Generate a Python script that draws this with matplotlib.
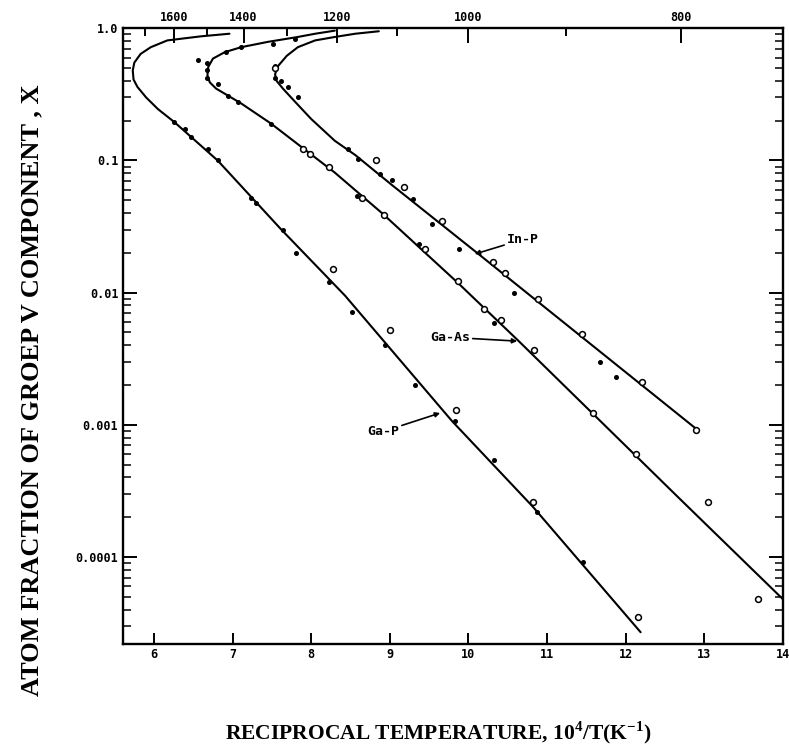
import numpy as np
import matplotlib
matplotlib.use("Agg")
import matplotlib.pyplot as plt
from matplotlib.ticker import FixedLocator, NullFormatter, FixedFormatter
from matplotlib.font_manager import FontProperties

plt.rcParams["mathtext.fontset"] = "custom"
plt.rcParams["mathtext.rm"] = "Liberation Serif"
plt.rcParams["mathtext.bf"] = "Liberation Serif:bold"

# liquidus curves (x = 10^4/T, y = atom fraction)
gap_x = [6.96, 6.60, 6.17, 5.96, 5.83, 5.75, 5.73, 5.74, 5.79, 5.90, 6.05, 6.26,
         6.81, 7.62, 8.43, 9.79, 10.82, 12.19]
gap_y = [0.91, 0.87, 0.81, 0.72, 0.64, 0.55, 0.48, 0.41, 0.36, 0.30, 0.245, 0.195,
         0.10, 0.030, 0.0095, 0.00107, 0.00024, 2.7e-5]

gaas_x = [8.30, 8.05, 7.83, 7.45, 7.11, 6.90, 6.75, 6.69, 6.68, 6.71, 6.79, 6.94,
          7.11, 7.49, 7.88, 8.30, 8.90, 9.87, 10.64, 12.69, 14.0]
gaas_y = [0.96, 0.91, 0.86, 0.79, 0.72, 0.66, 0.59, 0.51, 0.44, 0.39, 0.35, 0.31,
          0.27, 0.19, 0.126, 0.081, 0.040, 0.0118, 0.0043, 2.75e-4, 4.8e-5]

inp_x = [8.86, 8.56, 8.30, 8.05, 7.83, 7.69, 7.58, 7.54, 7.56, 7.64, 7.79, 8.00,
         8.30, 8.56, 9.03, 10.11, 12.90]
inp_y = [0.95, 0.91, 0.86, 0.81, 0.72, 0.62, 0.52, 0.45, 0.40, 0.35, 0.28, 0.206,
         0.141, 0.11, 0.065, 0.020, 9.3e-4]

# measured points: open circles
circ_x = [8.28, 9.00, 9.84, 10.82, 12.16,
          7.90, 7.98, 8.22, 8.64, 8.92, 9.45, 9.87, 10.20, 10.41, 10.84, 11.59, 12.13, 13.05, 13.68,
          7.54, 8.83, 9.18, 9.66, 10.31, 10.47, 10.88, 11.45, 12.21, 12.89]
circ_y = [0.0151, 0.0052, 0.00129, 0.00026, 3.5e-5,
          0.123, 0.112, 0.089, 0.052, 0.039, 0.0214, 0.0123, 0.0075, 0.0062, 0.0037, 0.00123,
          0.0006, 0.00026, 4.8e-5,
          0.50, 0.10, 0.063, 0.035, 0.017, 0.0141, 0.0089, 0.0049, 0.0021, 0.00091]

# measured points: small filled marks
dot_x = [6.26, 6.39, 6.47, 6.69, 6.81, 7.24, 7.30, 7.64, 7.81, 8.22, 8.52, 8.94, 9.32,
         9.83, 10.33, 10.87, 11.46,
         6.56, 6.68, 6.68, 6.68, 6.81, 6.92, 6.94, 7.07, 7.11, 7.49, 7.51, 7.79, 8.58, 9.37, 10.33,
         7.54, 7.54, 7.62, 7.71, 7.83, 8.47, 8.60, 8.88, 9.03, 9.30, 9.54, 9.88, 10.58, 11.67, 11.88]
dot_y = [0.196, 0.174, 0.151, 0.123, 0.10, 0.052, 0.048, 0.030, 0.020, 0.012, 0.0071, 0.0040, 0.0020,
         0.00107, 0.00054, 0.00022, 9.1e-5,
         0.575, 0.55, 0.48, 0.42, 0.38, 0.66, 0.31, 0.275, 0.72, 0.19, 0.76, 0.83, 0.054, 0.0234, 0.0059,
         0.52, 0.42, 0.40, 0.36, 0.30, 0.123, 0.102, 0.079, 0.071, 0.051, 0.033, 0.0214, 0.010, 0.0030, 0.0023]

bottom_ticks = [6, 7, 8, 9, 10, 11, 12, 13, 14]
# top scale ticks (temperature, K) sit where the drawing has them
top_pos = [5.88, 6.25, 6.67, 7.14, 7.69, 8.33, 9.09, 10.0, 11.24, 12.70]
top_temps = [1700, 1600, 1500, 1400, 1300, 1200, 1100, 1000, 900, 800]
top_labels = [1600, 1400, 1200, 1000, 800]
y_ticks = [1.0, 0.1, 0.01, 0.001, 0.0001]
y_labels = ["1.0", "0.1", "0.01", "0.001", "0.0001"]

fig = plt.figure(figsize=(7.89, 7.51), dpi=100)
ax = fig.add_axes([0.1553, 0.1425, 0.837, 0.8198])

for cx, cy in [(gap_x, gap_y), (gaas_x, gaas_y), (inp_x, inp_y)]:
    ax.plot(cx, cy, color="black", lw=1.5, solid_capstyle="round", solid_joinstyle="round")
ax.plot(dot_x, dot_y, "o", ms=2.6, color="black", zorder=3)
ax.plot(circ_x, circ_y, "o", ms=4.2, mfc="white", mec="black", mew=1.1, zorder=4)

ax.set_yscale("log")
ax.set_xlim(5.6, 14.0)
ax.set_ylim(2.2e-5, 1.0)

tick_fp = FontProperties(family="DejaVu Sans Mono", weight="bold", size=8.5)
ax.xaxis.set_major_locator(FixedLocator(bottom_ticks))
ax.xaxis.set_major_formatter(FixedFormatter([str(t) for t in bottom_ticks]))
ax.yaxis.set_major_locator(FixedLocator(y_ticks))
ax.yaxis.set_major_formatter(FixedFormatter(y_labels))
minor = [m * 10.0 ** e for e in range(-5, 0) for m in range(2, 10)]
ax.yaxis.set_minor_locator(FixedLocator(minor))
ax.yaxis.set_minor_formatter(NullFormatter())
for lab in ax.get_xticklabels() + ax.get_yticklabels():
    lab.set_fontproperties(tick_fp)

ax.tick_params(axis="x", which="major", direction="in", length=8, width=1.4, pad=3, top=False)
ax.tick_params(axis="y", which="major", direction="in", length=10, width=1.4, right=True, pad=3)
ax.tick_params(axis="y", which="minor", direction="in", length=6, width=1.1, right=True)
for s in ax.spines.values():
    s.set_linewidth(1.7)

top = ax.twiny()
top.set_xlim(ax.get_xlim())
major_top = [p for p, t in zip(top_pos, top_temps) if t in top_labels]
minor_top = [p for p, t in zip(top_pos, top_temps) if t not in top_labels]
top.xaxis.set_major_locator(FixedLocator(major_top))
top.xaxis.set_major_formatter(FixedFormatter([str(t) for t in top_labels]))
top.xaxis.set_minor_locator(FixedLocator(minor_top))
top.xaxis.set_minor_formatter(NullFormatter())
for lab in top.get_xticklabels():
    lab.set_fontproperties(tick_fp)
top.tick_params(axis="x", which="major", direction="in", length=11, width=1.4, pad=3)
top.tick_params(axis="x", which="minor", direction="in", length=6, width=1.4)
for s in top.spines.values():
    s.set_visible(False)

lab_fp = FontProperties(family="DejaVu Sans Mono", weight="bold", size=9.5)
arrow = dict(arrowstyle="-|>", color="black", lw=1.2, mutation_scale=7, shrinkA=0, shrinkB=0)
ax.annotate("In-P", xy=(10.08, 0.0196), xytext=(10.49, 0.0253), fontproperties=lab_fp,
            va="center", ha="left", arrowprops=arrow)
ax.annotate("Ga-As", xy=(10.62, 0.0043), xytext=(9.51, 0.0046), fontproperties=lab_fp,
            va="center", ha="left", arrowprops=arrow)
ax.annotate("Ga-P", xy=(9.64, 0.00123), xytext=(8.71, 0.00089), fontproperties=lab_fp,
            va="center", ha="left", arrowprops=arrow)

fig.text(0.556, 0.025, "RECIPROCAL TEMPERATURE, 10$^{\\mathbf{4}}$/T(K$^{\\mathbf{-1}}$)",
         ha="center", va="center", fontsize=15.5, fontweight="bold", family="Liberation Serif")
fig.text(0.040, 0.48, "ATOM FRACTION OF GROEP V COMPONENT , X", rotation=90,
         ha="center", va="center", fontsize=19, fontweight="bold", family="Liberation Serif")

fig.savefig("out.png", dpi=100)
